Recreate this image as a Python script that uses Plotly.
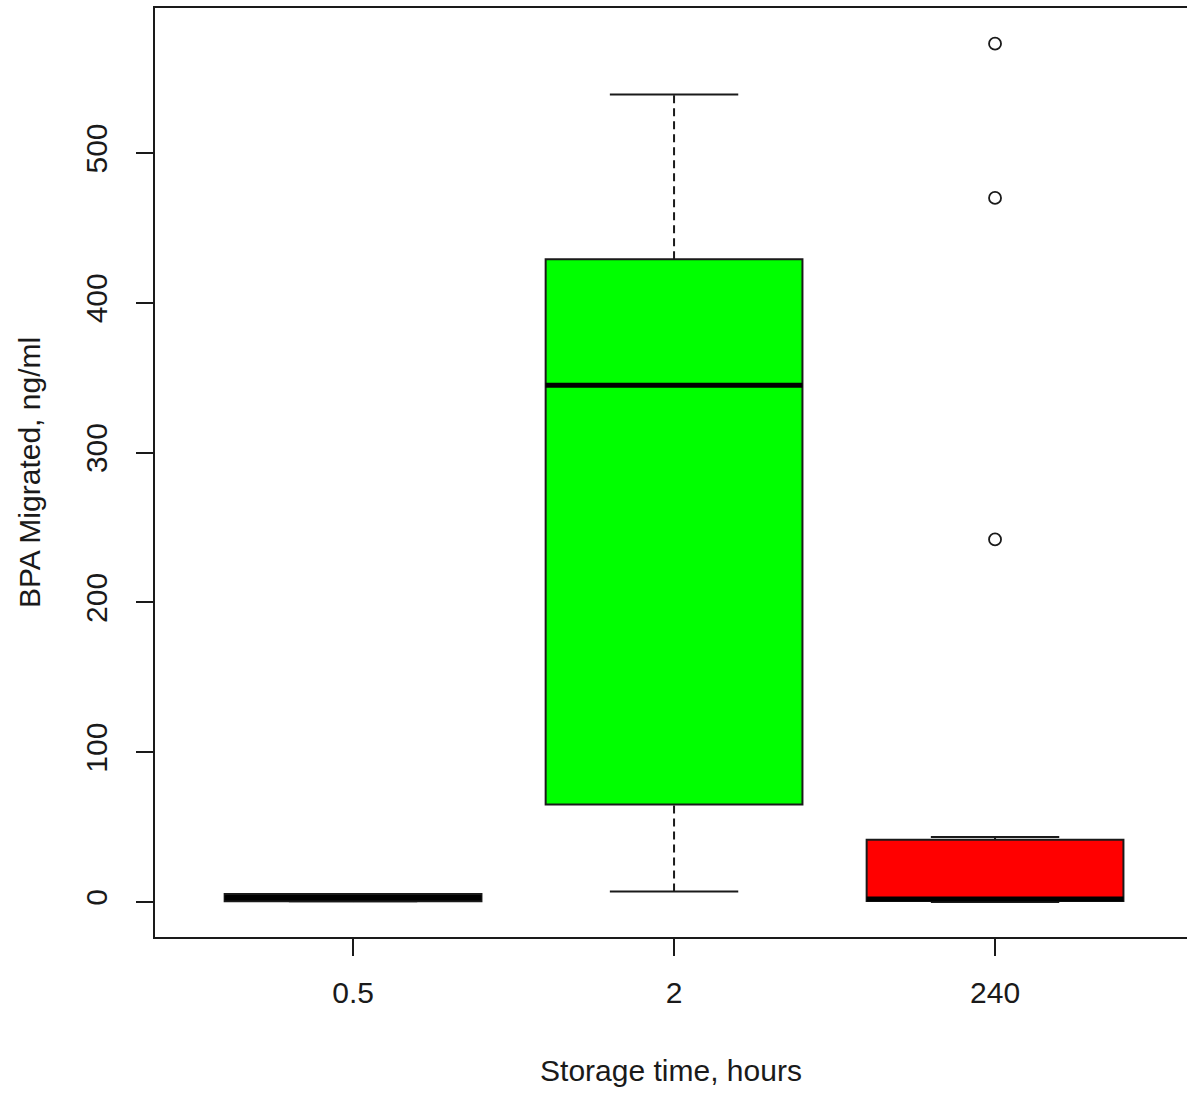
import plotly.graph_objects as go

# ---- data ----
categories = ["0.5", "2", "240"]
q1 = [0.5, 65.0, 0.7]
medians = [2.8, 345.0, 2.0]
q3 = [5.3, 429.0, 41.5]
whisker_low = [0.5, 7.0, 0.0]
whisker_high = [5.3, 539.0, 43.4]
fill_colors = ["#000000", "#00FF00", "#FF0000"]
outlier_group = ["240", "240", "240"]
outlier_values = [573.0, 470.0, 242.0]

positions = {c: i + 1 for i, c in enumerate(categories)}
BOX_HALF = 0.4
CAP_HALF = 0.2
LINE = "#1a1a1a"
FONT = "Liberation Sans, Arial, sans-serif"

fig = go.Figure()
shapes = []
for i, c in enumerate(categories):
    x = positions[c]
    # whiskers (dashed)
    shapes.append(dict(type="line", xref="x", yref="y", x0=x, x1=x, y0=q3[i], y1=whisker_high[i],
                       line=dict(color=LINE, width=2, dash="8px,5px"), layer="above"))
    shapes.append(dict(type="line", xref="x", yref="y", x0=x, x1=x, y0=whisker_low[i], y1=q1[i],
                       line=dict(color=LINE, width=2, dash="8px,5px"), layer="above"))
    # caps
    shapes.append(dict(type="line", xref="x", yref="y", x0=x - CAP_HALF, x1=x + CAP_HALF,
                       y0=whisker_high[i], y1=whisker_high[i], line=dict(color=LINE, width=2), layer="above"))
    shapes.append(dict(type="line", xref="x", yref="y", x0=x - CAP_HALF, x1=x + CAP_HALF,
                       y0=whisker_low[i], y1=whisker_low[i], line=dict(color=LINE, width=2), layer="above"))
    # box
    shapes.append(dict(type="rect", xref="x", yref="y", x0=x - BOX_HALF, x1=x + BOX_HALF,
                       y0=q1[i], y1=q3[i], fillcolor=fill_colors[i],
                       line=dict(color=LINE, width=2), layer="above"))
    # median
    shapes.append(dict(type="line", xref="x", yref="y", x0=x - BOX_HALF, x1=x + BOX_HALF,
                       y0=medians[i], y1=medians[i], line=dict(color="black", width=5), layer="above"))

fig.add_trace(go.Scatter(
    x=[positions[g] for g in outlier_group], y=outlier_values, mode="markers",
    marker=dict(symbol="circle-open", size=12, color=LINE, line=dict(width=1.8)),
    showlegend=False, hoverinfo="y",
))

fig.update_layout(
    width=1187, height=1093,
    margin=dict(l=155, r=0, t=8, b=156),
    paper_bgcolor="white", plot_bgcolor="white",
    shapes=shapes,
    showlegend=False,
    font=dict(family=FONT, size=30, color="#1a1a1a"),
    xaxis=dict(
        range=[0.383, 3.598],
        tickmode="array", tickvals=[positions[c] for c in categories], ticktext=categories,
        ticks="outside", ticklen=17, tickwidth=1.8, tickcolor=LINE,
        ticklabelstandoff=11,
        showline=True, linecolor=LINE, linewidth=2, mirror=True,
        showgrid=False, zeroline=False,
        tickfont=dict(size=30),
        title=dict(text="Storage time, hours", font=dict(size=30), standoff=52),
    ),
    yaxis=dict(
        range=[-23.4, 596.8],
        tickmode="array", tickvals=[0, 100, 200, 300, 400, 500],
        ticks="outside", ticklen=17, tickwidth=1.8, tickcolor=LINE,
        tickangle=-90,
        ticklabelstandoff=17,
        showline=True, linecolor=LINE, linewidth=2, mirror=False,
        showgrid=False, zeroline=False,
        tickfont=dict(size=30),
        title=dict(text="BPA Migrated, ng/ml", font=dict(size=30), standoff=31),
    ),
)

fig.write_html("out.html")
